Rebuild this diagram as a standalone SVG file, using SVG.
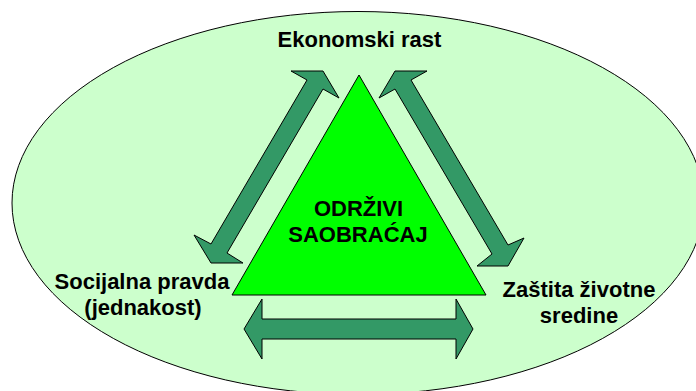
<svg xmlns="http://www.w3.org/2000/svg" width="696" height="391" viewBox="0 0 696 391">
<style>
.lbl{font-family:"Liberation Sans",Arial,sans-serif;font-weight:bold;font-size:22px;fill:#000;text-anchor:middle}
.arr{fill:#339966;stroke:#000;stroke-width:1;stroke-linejoin:miter}
</style>
<rect width="696" height="391" fill="#fff"/>
<g id="background">
<ellipse cx="358" cy="203" rx="346" ry="191.5" fill="#CCFFCC" stroke="#000" stroke-width="1"/>
</g>
<g id="connectors">
<polygon class="arr" points="323,71 339,98 323,89 227,253 243,263 211,263 194,235 211,244 307,80 291,71"/>
<polygon class="arr" points="395,71 427,71 411,80 508,245 524,238 508,266 477,266 492,254 395,89 379,98"/>
<polygon class="arr" points="244,329 262,299 262,319 456,319 456,299 473,329 456,359 456,339 262,339 262,359"/>
</g>
<g id="node-center">
<polygon points="359,75 486,295 232,295" fill="#00FF00" stroke="#000" stroke-width="1"/>
<text class="lbl" x="358.5" y="216">ODRŽIVI</text>
<text class="lbl" x="358" y="242">SAOBRAĆAJ</text>
</g>
<g id="node-ekonomski">
<text class="lbl" x="359.5" y="47">Ekonomski rast</text>
</g>
<g id="node-socijalna">
<text class="lbl" x="142" y="289">Socijalna pravda</text>
<text class="lbl" x="143" y="315">(jednakost)</text>
</g>
<g id="node-zastita">
<text class="lbl" x="579" y="297">Zaštita životne</text>
<text class="lbl" x="579" y="323">sredine</text>
</g>
</svg>
